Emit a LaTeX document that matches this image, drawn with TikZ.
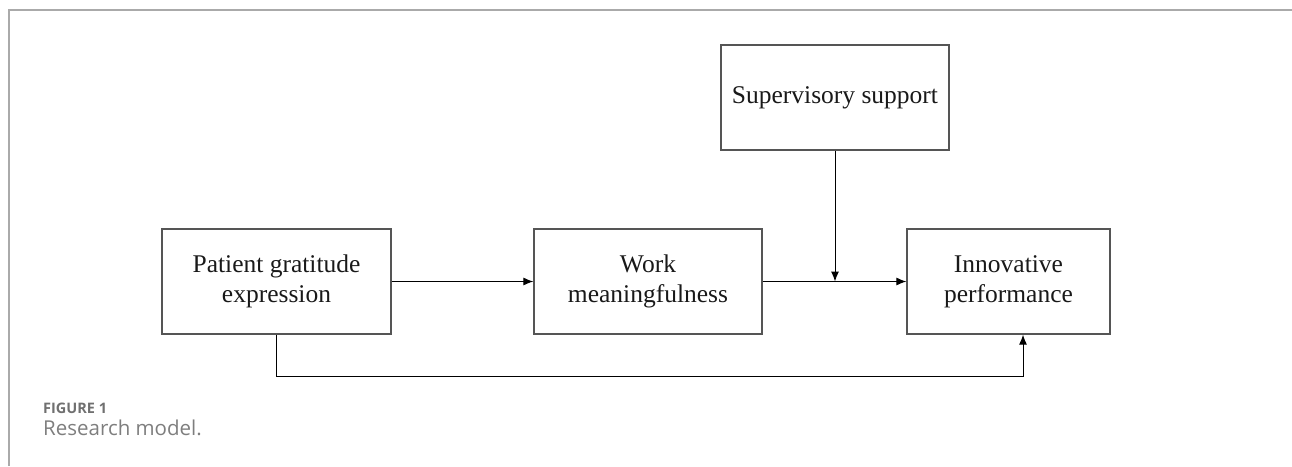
\documentclass[tikz,border=0pt]{standalone}
\usepackage{fontspec}
\setmainfont{Liberation Serif}
\newfontfamily\capfont{Open Sans}
\usetikzlibrary{arrows.meta}
\definecolor{framegray}{HTML}{AAAAAA}
\definecolor{boxgray}{HTML}{555555}
\definecolor{capgray}{HTML}{707070}
\tikzset{
  box/.style={draw=boxgray, line width=1.3pt, minimum height=105pt, align=center,
    inner sep=0pt, font=\fontsize{25.5}{30}\selectfont, text=black!90},
  arr/.style={draw=black, line width=1pt, -{Latex[length=10pt,width=8pt]}},
  frame/.style={draw=framegray, line width=1.6pt},
  caphead/.style={anchor=base west, inner sep=0pt, text=capgray, font=\capfont\bfseries\fontsize{14.5}{16}\selectfont},
  captext/.style={anchor=base west, inner sep=0pt, text=capgray!90, font=\capfont\fontsize{20.5}{22}\selectfont}
}
\begin{document}
\begin{tikzpicture}[x=1pt,y=-1pt]
\useasboundingbox (0,0) rectangle (1292,466);
\draw[frame] (9,466) -- (9,10) -- (1292,10);

\node[box, minimum width=229pt] (PGE) at (276.5,281.5) {Patient gratitude\\expression};
\node[box, minimum width=228pt] (WM) at (648,281.5) {Work\\meaningfulness};
\node[box, minimum width=228pt] (SS) at (835,97.5) {Supervisory support};
\node[box, minimum width=203pt] (IP) at (1008.5,281.5) {Innovative\\performance};

\draw[arr] (PGE.east) -- (WM.west);
\draw[arr] (WM.east) -- (IP.west);
\coordinate (mod) at (835,281.5);
\draw[arr] (SS.south) -- (mod);
\coordinate (b) at (1023,376);
\draw[arr] (PGE.south) |- (b) -- (b |- IP.south);

\node[caphead] (fig) at (43,413) {FIGURE 1};
\node[captext] (cap) at (43,435) {Research model.};
\end{tikzpicture}
\end{document}
